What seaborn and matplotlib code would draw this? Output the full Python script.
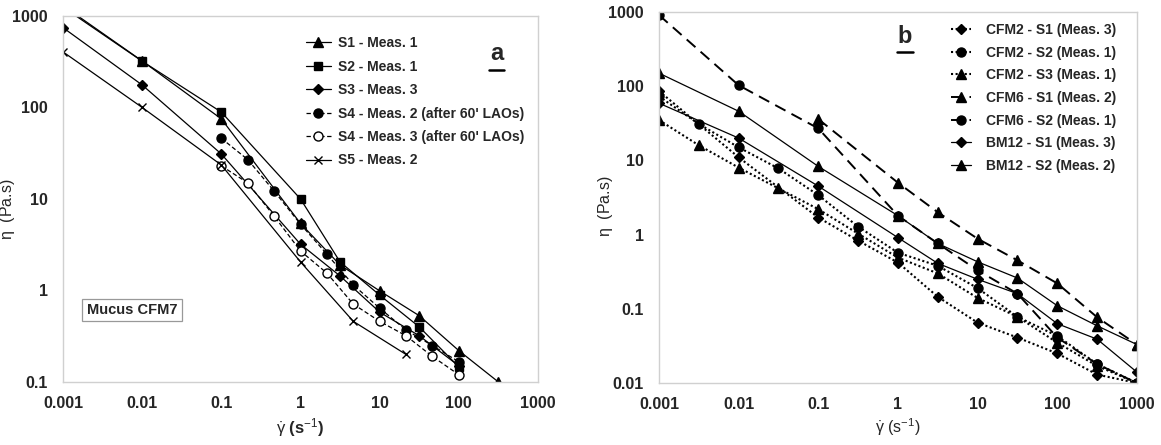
import numpy as np
import pandas as pd
import matplotlib
matplotlib.use("Agg")
import matplotlib.pyplot as plt
import seaborn as sns

# ---- panel a: Mucus CFM7 ----
x_a_s1 = [0.001, 0.01, 0.1, 1, 3.16, 10, 31.6, 100, 316]
y_a_s1 = [1300, 322, 75, 5.4, 1.9, 0.99, 0.53, 0.22, 0.1]
x_a_s2 = [0.001, 0.01, 0.1, 1, 3.16, 10, 31.6, 100]
y_a_s2 = [1250, 320, 89, 10, 2.05, 0.89, 0.40, 0.146]
x_a_s3 = [0.001, 0.01, 0.1, 1, 3.16, 10, 31.6, 100]
y_a_s3 = [745, 176, 31, 3.2, 1.44, 0.58, 0.32, 0.15]
x_a_s4 = [0.1, 0.215, 0.464, 1, 2.15, 4.64, 10, 21.5, 46.4, 100]
y_a_s4m2 = [46, 27, 12.2, 5.3, 2.5, 1.15, 0.64, 0.37, 0.25, 0.166]
y_a_s4m3 = [23, 15, 6.5, 2.7, 1.55, 0.71, 0.46, 0.32, 0.19, 0.12]
x_a_s5 = [0.001, 0.01, 0.1, 1, 4.64, 21.5]
y_a_s5 = [405, 100, 23.5, 2.05, 0.46, 0.2]

# ---- panel b ----
x_b_cfm2s1 = [0.001, 0.01, 0.1, 0.316, 1, 3.16, 10, 31.6, 100, 316, 1000]
y_b_cfm2s1 = [86, 11, 1.7, 0.83, 0.42, 0.145, 0.065, 0.041, 0.025, 0.013, 0.01]
x_b_cfm2 = [0.001, 0.00316, 0.01, 0.0316, 0.1, 0.316, 1, 3.16, 10, 31.6, 100, 316, 1000]
y_b_cfm2s2 = [73, 31, 15, 7.8, 3.4, 1.28, 0.57, 0.38, 0.19, 0.078, 0.043, 0.018, 0.01]
y_b_cfm2s3 = [35, 16, 8, 4.2, 2.2, 1.03, 0.49, 0.30, 0.14, 0.078, 0.035, 0.017, 0.01]
x_b_cfm6s1 = [0.1, 1, 3.16, 10, 31.6, 100, 316, 1000]
y_b_cfm6s1 = [36, 5.0, 2.0, 0.88, 0.45, 0.22, 0.077, 0.033]
x_b_dec = [0.001, 0.01, 0.1, 1, 3.16, 10, 31.6, 100, 316, 1000]
y_b_cfm6s2 = [910, 103, 27, 1.8, 0.76, 0.33, 0.16, 0.041, 0.018, 0.01]
y_b_bm12s1 = [59, 20, 4.5, 0.91, 0.41, 0.25, 0.16, 0.063, 0.039, 0.014]
y_b_bm12s2 = [150, 46, 8.3, 1.8, 0.76, 0.43, 0.26, 0.11, 0.059, 0.033]

xticks = [0.001, 0.01, 0.1, 1, 10, 100, 1000]
xticklabels = ["0.001", "0.01", "0.1", "1", "10", "100", "1000"]
yticks_a = [0.1, 1, 10, 100, 1000]
yticklabels_a = ["0.1", "1", "10", "100", "1000"]
yticks_b = [0.01, 0.1, 1, 10, 100, 1000]
yticklabels_b = ["0.01", "0.1", "1", "10", "100", "1000"]

sns.set_style("white")
plt.rcParams['font.family'] = ['Liberation Sans', 'DejaVu Sans']
plt.rcParams['mathtext.fontset'] = 'custom'
plt.rcParams['mathtext.rm'] = 'Liberation Sans'
plt.rcParams['mathtext.it'] = 'Liberation Sans'
plt.rcParams['mathtext.bf'] = 'Liberation Sans:bold'

fig = plt.figure(figsize=(11.61, 4.45), dpi=100)
ax1 = fig.add_axes([0.0543, 0.1416, 0.4091, 0.8225])
ax2 = fig.add_axes([0.5676, 0.1393, 0.4117, 0.8337])

DOT = (0, (1, 1.2))
DASH_A = (0, (3.5, 2))
DASH_B = (0, (6, 3.5))


def serie(ax, x, y, label, marker, ls, ms=5.5, mfc='k', lw=0.9):
    sns.lineplot(x=x, y=y, ax=ax, label=label, marker=marker, linestyle=ls,
                 color='k', lw=lw, markersize=ms, markerfacecolor=mfc,
                 markeredgecolor='k', markeredgewidth=1.0, sort=False,
                 estimator=None)


for ax in (ax1, ax2):
    ax.set_xscale('log')
    ax.set_yscale('log')

serie(ax1, x_a_s1, y_a_s1, "S1 - Meas. 1", '^', '-', 6.5)
serie(ax1, x_a_s2, y_a_s2, "S2 - Meas. 1", 's', '-', 5.5)
serie(ax1, x_a_s3, y_a_s3, "S3 - Meas. 3", 'D', '-', 5)
serie(ax1, x_a_s4, y_a_s4m2, "S4 - Meas. 2 (after 60' LAOs)", 'o', DASH_A, 6.5)
serie(ax1, x_a_s4, y_a_s4m3, "S4 - Meas. 3 (after 60' LAOs)", 'o', DASH_A, 6.5, 'white')
serie(ax1, x_a_s5, y_a_s5, "S5 - Meas. 2", 'x', '-', 5.5)

serie(ax2, x_b_cfm2s1, y_b_cfm2s1, "CFM2 - S1 (Meas. 3)", 'D', DOT, 5, lw=1.5)
serie(ax2, x_b_cfm2, y_b_cfm2s2, "CFM2 - S2 (Meas. 1)", 'o', DOT, 6.5, lw=1.5)
serie(ax2, x_b_cfm2, y_b_cfm2s3, "CFM2 - S3 (Meas. 1)", '^', DOT, 6.5, lw=1.5)
serie(ax2, x_b_cfm6s1, y_b_cfm6s1, "CFM6 - S1 (Meas. 2)", '^', DASH_B, 7, lw=1.4)
serie(ax2, x_b_dec, y_b_cfm6s2, "CFM6 - S2 (Meas. 1)", 'o', DASH_B, 6.5, lw=1.4)
serie(ax2, x_b_dec, y_b_bm12s1, "BM12 - S1 (Meas. 3)", 'D', '-', 5)
serie(ax2, x_b_dec, y_b_bm12s2, "BM12 - S2 (Meas. 2)", '^', '-', 7)

ax1.set_xlim(0.001, 1000)
ax1.set_ylim(0.1, 1000)
ax2.set_xlim(0.001, 1000)
ax2.set_ylim(0.01, 1000)

for ax, yt, ytl in ((ax1, yticks_a, yticklabels_a), (ax2, yticks_b, yticklabels_b)):
    ax.set_xticks(xticks)
    ax.set_xticklabels(xticklabels, fontsize=11.5, fontweight='bold')
    ax.set_yticks(yt)
    ax.set_yticklabels(ytl, fontsize=11.5, fontweight='bold')
    ax.tick_params(axis='y', which='major', length=0, pad=11)
    ax.tick_params(axis='x', which='major', length=0, pad=10)
    ax.tick_params(which='minor', length=3, direction='in', color='#cccccc')
    for sp in ax.spines.values():
        sp.set_color('#d0d0d0')
        sp.set_linewidth(1.0)

ax1.set_xlabel(r"$\dot{\gamma}$ (s$^{-1}$)", fontsize=12, fontweight='bold')
ax2.set_xlabel(r"$\dot{\gamma}$ (s$^{-1}$)", fontsize=11.5)
ax1.xaxis.set_label_coords(0.5, -0.093)
ax2.xaxis.set_label_coords(0.5, -0.09)
for ax, lx, ly in ((ax1, -0.097, 0.473), (ax2, -0.092, 0.477)):
    ax.set_ylabel(r"$\eta$  (Pa.s)", fontsize=11.5)
    ax.yaxis.set_label_coords(lx, ly)

ax1.legend(loc='upper left', bbox_to_anchor=(0.499, 0.96), frameon=False,
           prop={'weight': 'bold', 'size': 10}, handlelength=1.8,
           handletextpad=0.5, labelspacing=0.68, borderaxespad=0)
ax2.legend(loc='upper left', bbox_to_anchor=(0.6, 0.985), frameon=False,
           prop={'weight': 'bold', 'size': 10}, handlelength=1.45,
           handletextpad=1.05, labelspacing=0.62, borderaxespad=0)

# panel letters, underlined
for ax, xl, yl, letter in ((ax1, 0.913, 0.897, 'a'), (ax2, 0.515, 0.935, 'b')):
    ax.text(xl, yl, letter, transform=ax.transAxes, fontsize=17,
            fontweight='bold', ha='center', va='center')
    ax.plot([xl - 0.016, xl + 0.016], [yl - 0.044, yl - 0.044],
            transform=ax.transAxes, color='k', lw=1.8, clip_on=False)

ax1.text(0.145, 0.197, "Mucus CFM7", transform=ax1.transAxes, fontsize=10.5,
         fontweight='bold', ha='center', va='center',
         bbox=dict(boxstyle='square,pad=0.3', fc='white', ec='#999999', lw=0.9))

fig.savefig("out.png", dpi=100)
